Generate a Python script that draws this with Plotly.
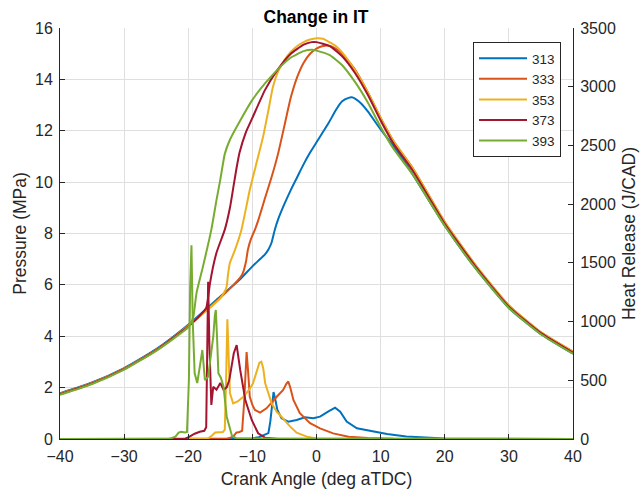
import plotly.graph_objects as go

# ---------------- data ----------------
series_names = ["313", "333", "353", "373", "393"]
colors = ["#0072BD", "#D95319", "#EDB120", "#A2142F", "#77AC30"]

# Pressure (MPa) vs crank angle (deg aTDC)
p313_x = [-40, -35, -30, -25, -20, -15, -12, -10, -8, -7.5, -7, -6.5, -6, -5, -4, -3, -2, -1, 0, 1, 2, 3, 4, 5, 5.5, 6, 7, 8, 10, 12, 15, 20, 25, 30, 35, 40]
p313_y = [1.78, 2.2, 2.76, 3.5, 4.45, 5.55, 6.2, 6.72, 7.2, 7.38, 7.65, 8.15, 8.54, 9.15, 9.7, 10.2, 10.7, 11.15, 11.55, 11.95, 12.35, 12.8, 13.15, 13.28, 13.3, 13.25, 13.05, 12.75, 12.05, 11.4, 10.3, 8.3, 6.58, 5.1, 4.08, 3.32]

p333_x = [-40, -35, -30, -25, -20, -15, -13, -12, -11.5, -11, -10.7, -10.2, -9.6, -9.1, -8, -7, -6, -5, -4, -3, -2, -1, 0, 1, 1.8, 3, 4, 6, 8, 10, 12, 15, 20, 25, 30, 35, 40]
p333_y = [1.76, 2.18, 2.74, 3.47, 4.42, 5.5, 5.98, 6.25, 6.45, 6.9, 7.37, 7.8, 8.15, 8.5, 9.4, 10.2, 11.1, 12.2, 13.3, 14.1, 14.65, 15.0, 15.2, 15.3, 15.32, 15.2, 15.0, 14.38, 13.5, 12.5, 11.6, 10.55, 8.45, 6.7, 5.2, 4.15, 3.4]

p353_x = [-40, -35, -30, -25, -20, -15, -14.2, -14, -13.8, -13.5, -12.7, -11.7, -10.4, -9.5, -8.3, -7.5, -6.8, -6, -5, -4.1, -3, -2, -1, 0, 1, 2, 3, 4, 6, 8, 10, 12, 15, 20, 25, 30, 35, 40]
p353_y = [1.75, 2.17, 2.73, 3.46, 4.4, 5.48, 5.8, 5.95, 6.4, 6.86, 7.37, 8.15, 9.7, 10.6, 11.8, 12.8, 13.7, 14.3, 14.75, 15.05, 15.3, 15.45, 15.55, 15.6, 15.58, 15.45, 15.3, 15.05, 14.35, 13.5, 12.5, 11.6, 10.55, 8.45, 6.7, 5.2, 4.15, 3.4]

p373_x = [-40, -35, -30, -25, -20, -19, -18, -17.2, -16.9, -16.6, -15.6, -14.3, -13.5, -12.9, -12.5, -12, -11, -10, -8, -6, -4, -2, -0.75, 0, 2, 4, 6, 8, 10, 12, 15, 20, 25, 30, 35, 40]
p373_y = [1.74, 2.16, 2.72, 3.45, 4.38, 4.6, 4.85, 5.1, 5.5, 6.08, 7.25, 8.15, 9.0, 9.9, 10.5, 11.15, 11.95, 12.5, 13.6, 14.4, 15.0, 15.35, 15.45, 15.45, 15.3, 14.9, 14.25, 13.4, 12.4, 11.5, 10.45, 8.38, 6.65, 5.15, 4.12, 3.36]

p393_x = [-40, -35, -30, -25, -21, -20, -19.6, -19.2, -18.7, -17.7, -16.4, -15.6, -15, -14.3, -13.5, -12, -10, -8, -6, -4, -2, -0.7, 0, 2, 4, 6, 8, 10, 12, 15, 20, 25, 30, 35, 40]
p393_y = [1.72, 2.14, 2.7, 3.43, 4.15, 4.35, 4.5, 4.77, 5.7, 6.72, 8.15, 9.3, 10.1, 11.1, 11.65, 12.35, 13.2, 13.85, 14.4, 14.85, 15.1, 15.15, 15.12, 14.95, 14.55, 13.9, 13.1, 12.15, 11.3, 10.3, 8.3, 6.58, 5.1, 4.08, 3.32]

# Heat release (J/CAD) vs crank angle
h313_x = [-40, -10, -9, -8, -7.5, -7.2, -6.9, -6.7, -6.4, -6.1, -5.45, -4.4, -3.1, -1.8, -0.5, 0.55, 1.8, 2.9, 3.7, 4.7, 6.3, 8.9, 11, 14, 17, 20, 40]
h313_y = [0, 5, 15, 35, 50, 150, 340, 400, 330, 247, 176, 148, 162, 185, 176, 190, 233, 267, 233, 148, 91, 62, 42, 22, 10, 4, 0]

h333_x = [-40, -14, -13, -12.5, -12, -11.6, -11.3, -11.1, -10.9, -10.7, -10.4, -10.0, -9.6, -8.8, -7.8, -6.2, -5.2, -4.7, -4.4, -4.1, -3.6, -2.6, -1.0, 0.55, 2.6, 5, 8, 12, 40]
h333_y = [0, 0, 20, 55, 60, 70, 300, 600, 740, 600, 360, 290, 247, 224, 261, 360, 417, 470, 490, 440, 332, 219, 134, 91, 48, 20, 8, 2, 0]

h353_x = [-40, -17, -16.3, -15.8, -14.6, -14.3, -14.1, -13.9, -13.7, -13.5, -13.0, -12.3, -11.4, -10.5, -9.9, -9.3, -8.9, -8.6, -8.3, -8.0, -7.0, -6.2, -5.7, -4.1, -3.1, -1.5, 0, 40]
h353_y = [0, 0, 30, 55, 60, 80, 500, 1019, 700, 392, 304, 320, 360, 420, 474, 588, 650, 658, 600, 474, 304, 230, 204, 105, 54, 20, 5, 0]

h373_x = [-40, -20.5, -19.8, -19, -18.2, -17.5, -17.2, -17.0, -16.9, -16.7, -16.4, -16.1, -15.6, -15.0, -14.5, -14.0, -13.6, -12.9, -12.45, -11.9, -11.1, -10.1, -9.1, -8, -6, 40]
h373_y = [0, 0, 20, 45, 62, 70, 100, 900, 1340, 800, 290, 445, 420, 477, 420, 440, 502, 730, 800, 588, 332, 162, 49, 10, 0, 0]

h393_x = [-40, -23, -22, -21.5, -21.1, -20.5, -20.2, -19.9, -19.7, -19.5, -19.3, -19.0, -18.6, -18.4, -18.1, -17.8, -17.6, -17.4, -16.9, -16.4, -16.1, -15.85, -15.7, -15.5, -15.3, -14.9, -14.5, -14.0, -13.5, -13.2, -12.5, 40]
h393_y = [0, 0, 20, 55, 62, 55, 60, 500, 1300, 1650, 1000, 560, 477, 562, 650, 758, 600, 502, 530, 730, 871, 1050, 1099, 850, 560, 520, 445, 190, 77, 30, 5, 0]

pressure = [(p313_x, p313_y), (p333_x, p333_y), (p353_x, p353_y), (p373_x, p373_y), (p393_x, p393_y)]
heat = [(h313_x, h313_y), (h333_x, h333_y), (h353_x, h353_y), (h373_x, h373_y), (h393_x, h393_y)]

x_ticks = [-40, -30, -20, -10, 0, 10, 20, 30, 40]
p_ticks = [0, 2, 4, 6, 8, 10, 12, 14, 16]
h_ticks = [0, 500, 1000, 1500, 2000, 2500, 3000, 3500]

# ---------------- figure ----------------
FONT = "Liberation Sans, Arial, Helvetica, sans-serif"
AXC = "#262626"
GRID = "#dfdfdf"
TICK_FS = 16
LAB_FS = 17.5

fig = go.Figure()
for name, col, (px, py) in zip(series_names, colors, pressure):
    fig.add_trace(go.Scatter(x=px, y=py, mode="lines", name=name,
                             line=dict(color=col, width=2, shape="spline", smoothing=0.5),
                             legendgroup=name, yaxis="y"))
for name, col, (hx, hy) in zip(series_names, colors, heat):
    fig.add_trace(go.Scatter(x=hx, y=hy, mode="lines", name=name, showlegend=False,
                             line=dict(color=col, width=2),
                             legendgroup=name, yaxis="y2"))

fig.update_layout(
    width=642, height=496,
    margin=dict(l=60, r=69, t=28, b=57),
    paper_bgcolor="white", plot_bgcolor="white",
    font=dict(family=FONT, size=TICK_FS, color=AXC),
    title=dict(text="<b>Change in IT</b>", x=316 / 642, xanchor="center",
               yref="container", y=1 - 17 / 496, yanchor="middle",
               font=dict(family=FONT, size=17.5, color="black")),
    xaxis=dict(range=[-40, 40], tickvals=x_ticks, ticks="inside", ticklen=5,
               tickcolor=AXC, showline=True, linecolor=AXC, linewidth=1,
               showgrid=True, gridcolor=GRID, gridwidth=1, zeroline=False,
               ticklabelstandoff=3, automargin=False,
               title=dict(text="Crank Angle (deg aTDC)", font=dict(size=LAB_FS, color=AXC), standoff=8),
               tickfont=dict(size=TICK_FS, color=AXC)),
    yaxis=dict(range=[0, 16], tickvals=p_ticks, ticks="inside", ticklen=5,
               tickcolor=AXC, showline=True, linecolor=AXC, linewidth=1,
               showgrid=True, gridcolor=GRID, gridwidth=1, zeroline=False,
               ticklabelstandoff=3, automargin=False,
               title=dict(text="Pressure (MPa)", font=dict(size=LAB_FS, color=AXC), standoff=3),
               tickfont=dict(size=TICK_FS, color=AXC)),
    yaxis2=dict(range=[0, 3500], tickvals=h_ticks, ticks="inside", ticklen=5,
                tickcolor=AXC, showline=True, linecolor=AXC, linewidth=1,
                overlaying="y", side="right", anchor="x",
                showgrid=False, zeroline=False,
                ticklabelstandoff=3, automargin=False,
                title=dict(text="Heat Release (J/CAD)", font=dict(size=LAB_FS, color=AXC), standoff=7),
                tickfont=dict(size=TICK_FS, color=AXC)),
    legend=dict(x=(473 - 60) / 513, y=(439 - 42) / 411, xanchor="left", yanchor="top",
                bgcolor="white", bordercolor=AXC, borderwidth=1,
                font=dict(family=FONT, size=13.5, color=AXC),
                itemwidth=48, tracegroupgap=0),
    showlegend=True,
)

fig.write_html("out.html")
